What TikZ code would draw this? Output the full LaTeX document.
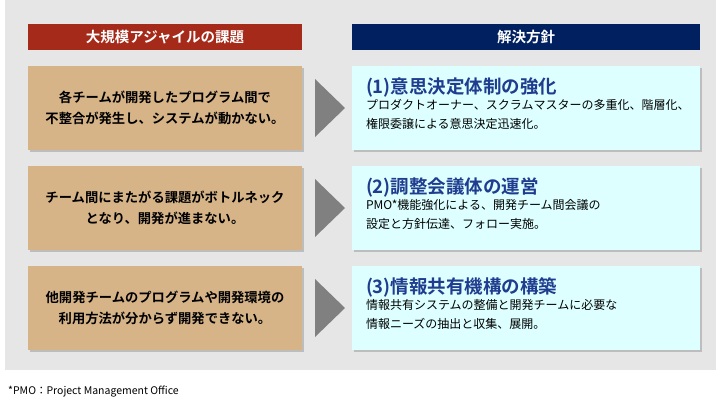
\documentclass[tikz,border=0pt]{standalone}
\usepackage{fontspec}
\setmainfont{Noto Sans CJK JP}
\newfontfamily\jpb{Noto Sans CJK JP Bold}
\usetikzlibrary{shadows}
\definecolor{bgg}{HTML}{E6E6E6}
\definecolor{hred}{HTML}{A52A1A}
\definecolor{hblue}{HTML}{002060}
\definecolor{tan}{HTML}{D6B488}
\definecolor{cyanbox}{HTML}{DDFFFF}
\definecolor{ttl}{HTML}{1F3C8F}
\definecolor{arr}{HTML}{808080}
\tikzset{
 hdr/.style={minimum width=274pt,minimum height=26pt,inner sep=0pt,text=white,font=\jpb\fontsize{14.5}{16}\selectfont},
 lbox/.style={fill=tan,minimum width=274pt,minimum height=84pt,inner sep=0pt,align=center,drop shadow={opacity=0.4,shadow xshift=2pt,shadow yshift=-2pt},font=\jpb\fontsize{13.3}{21}\selectfont},
 rbox/.style={fill=cyanbox,minimum width=348pt,minimum height=84pt,inner sep=0pt,drop shadow={opacity=0.4,shadow xshift=2pt,shadow yshift=-2pt}},
 rtitle/.style={anchor=north west,inner sep=0pt,text=ttl,font=\jpb\fontsize{18.5}{20}\selectfont},
 rbody/.style={anchor=north west,inner sep=0pt,align=left,font=\fontsize{12}{19}\selectfont},
 chev/.style={fill=arr,draw=none}
}
\begin{document}
\begin{tikzpicture}[x=1pt,y=-1pt]
\useasboundingbox (0,0) rectangle (720,405);
\fill[white] (0,0) rectangle (720,405);
\fill[bgg] (5,0) rectangle (716,370);
\node[hdr,fill=hred] (h1) at (165,37) {大規模アジャイルの課題};
\node[hdr,fill=hblue,minimum width=348pt] (h2) at (526,37) {解決方針};
\foreach \i/\y/\t in {1/108/{各チームが開発したプログラム間で\\不整合が発生し、システムが動かない。},
  2/208/{チーム間にまたがる課題がボトルネック\\となり、開発が進まない。},
  3/308/{他開発チームのプログラムや開発環境の\\利用方法が分からず開発できない。}}{
  \node[lbox] (l\i) at (165,\y) {\t};
  \node[rbox] (r\i) at (526,\y) {};
  \fill[chev] (315,\y-29) -- (345,\y) -- (315,\y+29) -- cycle;
}
\node[rtitle] (t1) at ([xshift=14pt,yshift=-12pt]r1.north west) {(1)意思決定体制の強化};
\node[rbody] (b1) at ([yshift=-1pt]t1.south west) {プロダクトオーナー、スクラムマスターの多重化、階層化、\\権限委譲による意思決定迅速化。};
\node[rtitle] (t2) at ([xshift=14pt,yshift=-12pt]r2.north west) {(2)調整会議体の運営};
\node[rbody] (b2) at ([yshift=-1pt]t2.south west) {PMO*機能強化による、開発チーム間会議の\\設定と方針伝達、フォロー実施。};
\node[rtitle] (t3) at ([xshift=14pt,yshift=-12pt]r3.north west) {(3)情報共有機構の構築};
\node[rbody] (b3) at ([yshift=-1pt]t3.south west) {情報共有システムの整備と開発チームに必要な\\情報ニーズの抽出と収集、展開。};
\node[anchor=west,inner sep=0pt,font=\fontsize{10.5}{12}\selectfont] (fn) at (8,392) {*PMO：Project Management Office};
\end{tikzpicture}
\end{document}
